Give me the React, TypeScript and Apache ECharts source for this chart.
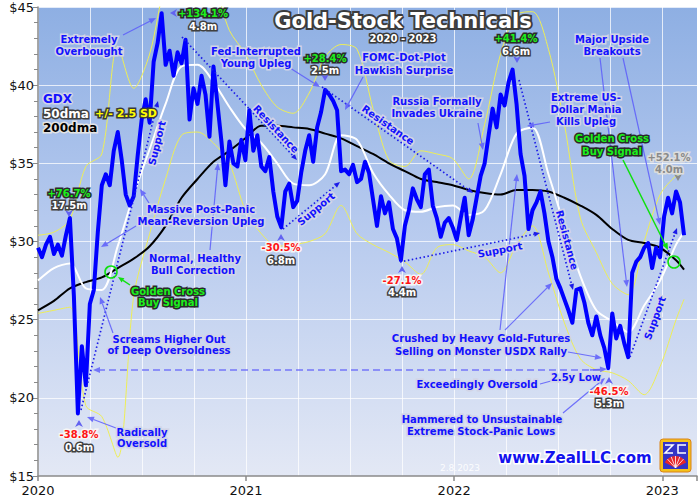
import React, { useEffect, useRef } from 'react';
import * as echarts from 'echarts';

// GDX weekly closes, first point early Jan 2020
const gdxWeekly: number[] = [
  29.6, 29.0, 29.8, 30.3, 29.2, 29.8, 29.1, 30.4, 31.5, 26.5,
  19.0, 23.3, 20.8, 26.0, 26.9, 30.6, 33.6, 34.3, 33.6, 35.8,
  37.0, 35.2, 33.0, 32.3, 32.9, 35.5, 37.8, 39.1, 37.6, 41.5,
  42.7, 44.6, 41.3, 42.2, 40.6, 42.1, 41.4, 42.9, 37.8, 39.8,
  38.8, 40.6, 39.4, 36.7, 41.2, 38.8, 36.4, 33.6, 36.4, 35.0,
  34.8, 36.5, 35.2, 38.4, 35.8, 36.8, 34.8, 34.5, 35.4, 33.2,
  31.6, 30.9, 33.2, 33.7, 32.2, 32.6, 34.4, 35.8, 36.8, 35.1,
  37.3, 38.3, 39.7, 39.4, 39.0, 38.4, 34.5, 34.6, 34.3, 34.9,
  33.8, 34.0, 35.1, 34.4, 32.7, 31.0, 32.9, 31.8, 32.5, 30.8,
  30.2, 28.8, 31.0, 32.0, 33.4, 32.7, 32.2, 34.3, 34.6, 32.3,
  31.5, 30.3, 31.2, 31.5, 30.9, 30.1, 31.5, 32.8, 30.4, 31.4,
  32.8, 34.2, 35.0, 36.8, 38.5, 37.3, 39.4, 38.7, 40.2, 41.0,
  38.8, 35.6, 34.2, 30.8, 32.0, 32.5, 33.2, 31.8, 30.0, 29.0,
  27.6, 27.0, 26.3, 25.6, 24.8, 26.9, 27.0, 26.1, 24.8, 24.0,
  25.2, 24.0, 23.2, 21.9, 25.4, 23.8, 24.6, 23.5, 22.6, 28.0,
  28.7, 29.0, 29.6, 29.9, 28.3, 29.6, 29.0, 31.6, 32.8, 31.8,
  33.2, 32.5, 30.4,
];

// week numbers where the averages and bands were read
const maWeeks: number[] = [
  0, 4, 8, 12, 16, 20, 24, 28, 32, 36, 40, 44, 48, 52, 56, 60, 64, 68, 72, 76, 80,
  84, 88, 92, 96, 100, 104, 108, 112, 116, 120, 124, 128, 132, 136, 140, 144, 148, 152, 156, 160, 162,
];

const dma50: number[] = [
  27.5, 28.3, 28.6, 27.0, 26.9, 29.7, 33.0, 35.9, 38.8, 41.2, 41.3, 40.2, 38.6, 37.2, 36.3, 35.0, 33.7, 33.6, 34.3, 36.8, 36.5,
  34.4, 33.0, 32.0, 31.9, 32.2, 32.3, 31.7, 32.0, 34.3, 36.9, 37.3, 34.3, 31.0, 27.8, 25.6, 24.9, 24.2, 25.9, 27.5, 29.8, 30.6,
];

const dma200: number[] = [
  25.6, 26.2, 27.0, 27.4, 27.7, 28.3, 28.9, 29.7, 31.0, 32.8, 34.0, 35.1, 35.8, 36.6, 37.4, 37.4, 37.3, 37.2, 36.9, 36.6, 36.1,
  35.6, 35.0, 34.5, 34.0, 33.8, 33.6, 33.3, 33.1, 33.0, 33.3, 33.3, 33.2, 32.8, 32.3, 31.7, 30.8, 30.1, 29.9, 29.6, 28.8, 28.2,
];

const bandUpper: number[] = [
  30.4, 30.6, 31.4, 34.8, 35.6, 42.5, 39.8, 42.0, 46.5, 48.0, 47.5, 46.5, 43.5, 42.0, 40.0, 38.6, 38.2, 39.5, 41.8, 42.6, 42.3,
  38.5, 35.2, 34.8, 35.8, 35.6, 35.3, 34.0, 37.5, 42.0, 44.5, 44.7, 42.3, 37.5, 31.5, 29.3, 27.3, 26.6, 30.0, 33.0, 34.2, 34.4,
];

const bandLower: number[] = [
  25.4, 25.6, 25.8, 19.5, 18.8, 16.2, 26.5, 30.5, 34.0, 36.8, 37.0, 36.3, 35.0, 32.0, 30.5, 29.7, 29.8, 30.0, 30.5, 32.3, 30.5,
  29.8, 29.3, 28.7, 27.9, 29.6, 29.8, 29.4, 29.0, 28.0, 29.8, 31.0, 28.0, 24.8, 22.5, 21.8, 21.6, 21.1, 20.2, 22.0, 25.0, 26.3,
];

const yearLabels: number[] = [2020, 2021, 2022, 2023];
const X_MIN = 2020;
const X_MAX = 2023.167;
const WEEK = 7 / 365.25;

const FONT = '"DejaVu Sans", Verdana, sans-serif';

// annotation texts: [text, x, y]
const blueNotes: [string, number, number][] = [
  ['Extremely', 89, 39], ['Overbought', 89, 51],
  ['Fed-Interrupted', 256, 51], ['Young Upleg', 256, 63],
  ['FOMC-Dot-Plot', 404, 57], ['Hawkish Surprise', 404, 70],
  ['Russia Formally', 437, 101], ['Invades Ukraine', 437, 113],
  ['Extreme US-', 586, 97], ['Dollar Mania', 586, 109], ['Kills Upleg', 586, 121],
  ['Major Upside', 612, 39], ['Breakouts', 612, 51],
  ['Massive Post-Panic', 201, 209], ['Mean-Reversion Upleg', 201, 221],
  ['Normal, Healthy', 195, 258], ['Bull Correction', 193, 270],
  ['Screams Higher Out', 169, 339], ['of Deep Oversoldness', 169, 350],
  ['Radically', 142, 432], ['Oversold', 142, 443],
  ['Crushed by Heavy Gold-Futures', 481, 338], ['Selling on Monster USDX Rally', 481, 351],
  ['Exceedingly Oversold', 477, 384], ['2.5y Low', 576, 377],
  ['Hammered to Unsustainable', 482, 419], ['Extreme Stock-Panic Lows', 481, 431],
];

// rotated trend labels: [text, x, y, degrees]
const trendNotes: [string, number, number, number][] = [
  ['Support', 157, 143, 76], ['Resistance', 276, 129, -47], ['Support', 316, 209, 40],
  ['Resistance', 388, 125, -35], ['Support', 500, 250, 11], ['Resistance', 567, 240, -75],
  ['Support', 655, 318, 70],
];

const greenNotes: [string, number, number][] = [
  ['+134.1%', 203, 13], ['+76.7%', 69, 193], ['+28.4%', 325, 58], ['+41.4%', 516, 38],
  ['Golden Cross', 168, 291], ['Buy Signal', 168, 302], ['Golden Cross', 612, 138], ['Buy Signal', 612, 151],
];
const whiteNotes: [string, number, number][] = [
  ['4.8m', 203, 26], ['17.5m', 69, 205], ['2.5m', 325, 70], ['6.6m', 516, 51],
  ['0.6m', 79, 447], ['6.8m', 281, 260], ['4.4m', 402, 292], ['5.3m', 609, 403],
];
const redNotes: [string, number, number][] = [
  ['-38.8%', 79, 434], ['-30.5%', 281, 247], ['-27.1%', 402, 280], ['-46.5%', 609, 391],
];

// pointer arrows [x1, y1, x2, y2]
const noteArrows: number[][] = [
  [123, 35, 156, 18], [290, 68, 320, 87], [363, 77, 345, 110], [478, 123, 483, 150],
  [550, 122, 527, 126], [600, 58, 627, 287], [623, 58, 660, 225], [149, 203, 140, 189],
  [136, 226, 101, 247], [210, 250, 218, 163], [113, 333, 100, 297], [116, 428, 87, 417],
  [500, 330, 517, 174], [505, 330, 552, 283], [568, 352, 602, 358], [563, 413, 605, 378],
];
const trendLines: number[][] = [
  [81, 410, 158, 101], [182, 37, 297, 160], [283, 229, 340, 182], [322, 87, 473, 193],
  [400, 262, 540, 233], [519, 80, 573, 290], [630, 357, 677, 228],
];
// small pointer triangles: [x, y, direction]
const pointers: [number, number, string][] = [
  [170, 13, 'left'], [69, 217, 'down'], [325, 81, 'down'], [517, 63, 'down'],
  [79, 420, 'up'], [281, 234, 'up'], [402, 266, 'up'], [609, 377, 'up'],
];

function arrow(x1: number, y1: number, x2: number, y2: number, color: string, width: number, dash?: number[], head = 7) {
  const a = Math.atan2(y2 - y1, x2 - x1);
  const hw = head * 0.42;
  const bx = x2 - head * Math.cos(a);
  const by = y2 - head * Math.sin(a);
  return [
    {
      type: 'line', z: 110, silent: true,
      shape: { x1, y1, x2: bx, y2: by },
      style: { stroke: color, lineWidth: width, lineDash: dash },
    },
    {
      type: 'polygon', z: 110, silent: true,
      shape: { points: [[x2, y2], [bx + hw * Math.sin(a), by - hw * Math.cos(a)], [bx - hw * Math.sin(a), by + hw * Math.cos(a)]] },
      style: { fill: color },
    },
  ];
}

function pointer(x: number, y: number, dir: string, color = '#6262f0') {
  const s = 4;
  let pts: number[][];
  if (dir === 'left') pts = [[x, y], [x + 7, y - s], [x + 5, y], [x + 7, y + s]];
  else if (dir === 'down') pts = [[x, y], [x - s, y - 7], [x, y - 5], [x + s, y - 7]];
  else pts = [[x, y], [x - s, y + 7], [x, y + 5], [x + s, y + 7]];
  return { type: 'polygon', z: 110, silent: true, shape: { points: pts }, style: { fill: color } };
}

function txt(text: string, x: number, y: number, style: any, rotDeg = 0, align = 'center') {
  return {
    type: 'text', x, y, z: 120, silent: true,
    rotation: (rotDeg * Math.PI) / 180,
    style: {
      text, align, verticalAlign: 'middle', textAlign: align, textVerticalAlign: 'middle',
      fontFamily: FONT, fontWeight: 'bold', fontSize: 10, ...style,
    },
  };
}

const S_BLUE = { fill: '#1212ff', stroke: '#d2d4e6', lineWidth: 3.2, shadowColor: 'rgba(40,40,60,0.55)', shadowBlur: 2, shadowOffsetX: 1, shadowOffsetY: 1 };
const S_GREEN = { fill: '#1cf01c', stroke: '#2a2a2a', lineWidth: 3 };
const S_WHITE = { fill: '#ffffff', stroke: '#404040', lineWidth: 3 };
const S_RED = { fill: '#ff1414', stroke: '#f6f6f6', lineWidth: 3, shadowColor: 'rgba(40,40,40,0.6)', shadowBlur: 2, shadowOffsetX: 1, shadowOffsetY: 1 };
const S_GRAY = { fill: '#8a8a8a', stroke: '#dedede', lineWidth: 3 };

function buildGraphics() {
  const g: any[] = [];
  trendLines.forEach(([a, b, c, d]) => g.push(...arrow(a, b, c, d, '#1c1ce8', 1.7, [1.5, 2.5], 6)));
  noteArrows.forEach(([a, b, c, d]) => g.push(...arrow(a, b, c, d, 'rgba(92,92,250,0.85)', 1.2)));
  // dashed 2.5y-low level line
  g.push(...arrow(600, 370, 93, 370, 'rgba(100,100,250,0.85)', 1.5, [7, 4]));
  g.push(...arrow(590, 370, 607, 369, 'rgba(100,100,250,0.85)', 1.5));
  g.push({ type: 'line', z: 110, silent: true, shape: { x1: 540, y1: 384, x2: 551, y2: 381 }, style: { stroke: 'rgba(92,92,250,0.85)', lineWidth: 1.2 } });
  // golden cross markers
  g.push(...arrow(130, 285, 118, 277, '#10e010', 1.5, undefined, 6));
  g.push(...arrow(623, 160, 668, 250, '#10e010', 1.5, undefined, 7));
  g.push({ type: 'circle', z: 112, silent: true, shape: { cx: 111, cy: 272, r: 6 }, style: { fill: 'none', stroke: '#10e010', lineWidth: 1.6 } });
  g.push({ type: 'circle', z: 112, silent: true, shape: { cx: 674, cy: 262, r: 6 }, style: { fill: 'none', stroke: '#10e010', lineWidth: 1.6 } });
  pointers.forEach(([x, y, d]) => g.push(pointer(x, y, d)));
  g.push(pointer(678, 181, 'down', '#8a8a8a'));

  blueNotes.forEach(([t, x, y]) => g.push(txt(t, x, y, S_BLUE)));
  trendNotes.forEach(([t, x, y, r]) => g.push(txt(t, x, y, S_BLUE, r)));
  greenNotes.forEach(([t, x, y]) => g.push(txt(t, x, y, S_GREEN)));
  whiteNotes.forEach(([t, x, y]) => g.push(txt(t, x, y, S_WHITE)));
  redNotes.forEach(([t, x, y]) => g.push(txt(t, x, y, S_RED)));
  g.push(txt('+52.1%', 669, 157, S_GRAY));
  g.push(txt('4.0m', 669, 169, S_GRAY));

  // legend
  g.push(txt('GDX', 43, 99, { ...S_BLUE, fontSize: 12 }, 0, 'left'));
  g.push(txt('50dma', 43, 114, { ...S_WHITE, fontSize: 12 }, 0, 'left'));
  g.push(txt('+/- 2.5 SD', 95, 113, { fill: '#ffff00', stroke: '#3a3a3a', lineWidth: 3, fontSize: 11 }, 0, 'left'));
  g.push(txt('200dma', 43, 128, { fill: '#000000', stroke: '#e4e4e4', lineWidth: 3, fontSize: 12 }, 0, 'left'));

  // title
  g.push(txt('Gold-Stock Technicals', 403, 21, { fill: '#ffffff', stroke: '#3c3c3c', lineWidth: 4, fontSize: 21, shadowColor: 'rgba(0,0,0,0.4)', shadowBlur: 2, shadowOffsetX: 1, shadowOffsetY: 1 }));
  g.push(txt('2020 - 2023', 403, 38, { fill: '#ffffff', stroke: '#3a3a3a', lineWidth: 3, fontSize: 10 }));
  g.push(txt('www.ZealLLC.com', 575, 458, { fill: '#1212ee', stroke: '#ffffff', lineWidth: 3, fontSize: 15, shadowColor: 'rgba(40,40,60,0.6)', shadowBlur: 2, shadowOffsetX: 1, shadowOffsetY: 1 }));
  g.push(txt('2.8.2023', 460, 468, { fill: 'rgba(255,255,255,0.9)', fontSize: 9, fontWeight: 'normal' }));

  // logo
  g.push({ type: 'rect', z: 115, silent: true, shape: { x: 660, y: 439, width: 31, height: 33, r: 3 }, style: { fill: '#f4c21a', stroke: '#d9821a', lineWidth: 1 } });
  g.push({ type: 'rect', z: 116, silent: true, shape: { x: 663, y: 442, width: 25, height: 27 }, style: { fill: '#3434c6' } });
  g.push({ type: 'polyline', z: 117, silent: true, shape: { points: [[665, 445], [673, 445], [665, 453], [673, 453]] }, style: { stroke: '#ffffff', lineWidth: 1.5, fill: 'none' } });
  g.push({ type: 'polyline', z: 117, silent: true, shape: { points: [[686, 445], [678, 445], [678, 453], [686, 453]] }, style: { stroke: '#ffffff', lineWidth: 1.5, fill: 'none' } });
  g.push({ type: 'sector', z: 117, silent: true, shape: { cx: 675.5, cy: 468, r: 12, r0: 1.5, startAngle: Math.PI * 1.15, endAngle: Math.PI * 1.85 }, style: { fill: '#e8262a' } });
  for (let i = 1; i < 6; i++) {
    const a = Math.PI * (1.15 + (0.7 * i) / 6);
    g.push({ type: 'line', z: 118, silent: true, shape: { x1: 675.5, y1: 468, x2: 675.5 + 12 * Math.cos(a), y2: 468 + 12 * Math.sin(a) }, style: { stroke: '#ffffff', lineWidth: 0.8 } });
  }
  return g;
}

const weekToYear = (w: number) => X_MIN + w * WEEK;
const maPoints = (vals: number[]) => vals.map((v, i) => [weekToYear(maWeeks[i]), v]);

function buildOption(): any {
  const bandStyle = { color: '#eeee55', width: 1 };
  return {
    animation: false,
    textStyle: { fontFamily: FONT },
    grid: {
      left: 38, right: 0, top: 7, bottom: 24, show: true, borderWidth: 0,
      backgroundColor: {
        type: 'linear', x: 0, y: 0, x2: 0, y2: 1,
        colorStops: [
          { offset: 0, color: '#8eafe3' },
          { offset: 0.45, color: '#b5c9ee' },
          { offset: 1, color: '#e3e8f5' },
        ],
      },
    },
    xAxis: [
      {
        type: 'value', min: X_MIN, max: X_MAX, interval: 0.25,
        axisLine: { show: true, lineStyle: { color: '#8a8a8a', width: 1.5 } },
        axisTick: { show: false },
        axisLabel: { show: false },
        splitLine: { show: true, lineStyle: { color: 'rgba(255,255,255,0.75)', width: 1 } },
      },
      {
        type: 'value', min: X_MIN, max: X_MAX, interval: 1, position: 'bottom',
        axisLine: { show: false },
        axisTick: { show: true, length: 5, lineStyle: { color: '#8a8a8a', width: 1.5 } },
        axisLabel: {
          color: '#111', fontSize: 13, margin: 8, fontFamily: FONT,
          formatter: (v: number) => (yearLabels.includes(v) ? String(v) : ''),
        },
        splitLine: { show: false },
      },
    ],
    yAxis: {
      type: 'value', min: 15, max: 45, interval: 5,
      axisLine: { show: true, lineStyle: { color: '#8a8a8a', width: 1.5 } },
      axisTick: { show: true, length: 5, lineStyle: { color: '#8a8a8a' } },
      minorTick: { show: true, splitNumber: 5, length: 4, lineStyle: { color: '#8a8a8a' } },
      axisLabel: { color: '#111', fontSize: 13, margin: 4, fontFamily: FONT, formatter: (v: number) => '$' + v },
      splitLine: { show: true, lineStyle: { color: 'rgba(255,255,255,0.75)', width: 1 } },
    },
    series: [
      { name: 'Upper band', type: 'line', data: maPoints(bandUpper), showSymbol: false, smooth: 0.3, lineStyle: bandStyle, z: 3 },
      { name: 'Lower band', type: 'line', data: maPoints(bandLower), showSymbol: false, smooth: 0.3, lineStyle: bandStyle, z: 3 },
      { name: '200dma', type: 'line', data: maPoints(dma200), showSymbol: false, smooth: 0.3, lineStyle: { color: '#000000', width: 2 }, z: 4 },
      { name: '50dma', type: 'line', data: maPoints(dma50), showSymbol: false, smooth: 0.3, lineStyle: { color: '#ffffff', width: 2 }, z: 5 },
      {
        name: 'GDX', type: 'line', data: gdxWeekly.map((v, i) => [weekToYear(i), v]),
        showSymbol: false, lineStyle: { color: '#0000ff', width: 4, join: 'round' }, z: 6,
      },
    ],
    graphic: buildGraphics(),
  };
}

export default function App() {
  const ref = useRef<HTMLDivElement>(null);
  useEffect(() => {
    if (!ref.current) return;
    const chart = echarts.init(ref.current, undefined, { renderer: 'svg' });
    chart.setOption(buildOption());
    return () => chart.dispose();
  }, []);
  return (
    <div
      ref={ref}
      style={{ position: 'fixed', left: 0, top: 0, width: 700, height: 500, background: '#ffffff' }}
    />
  );
}
